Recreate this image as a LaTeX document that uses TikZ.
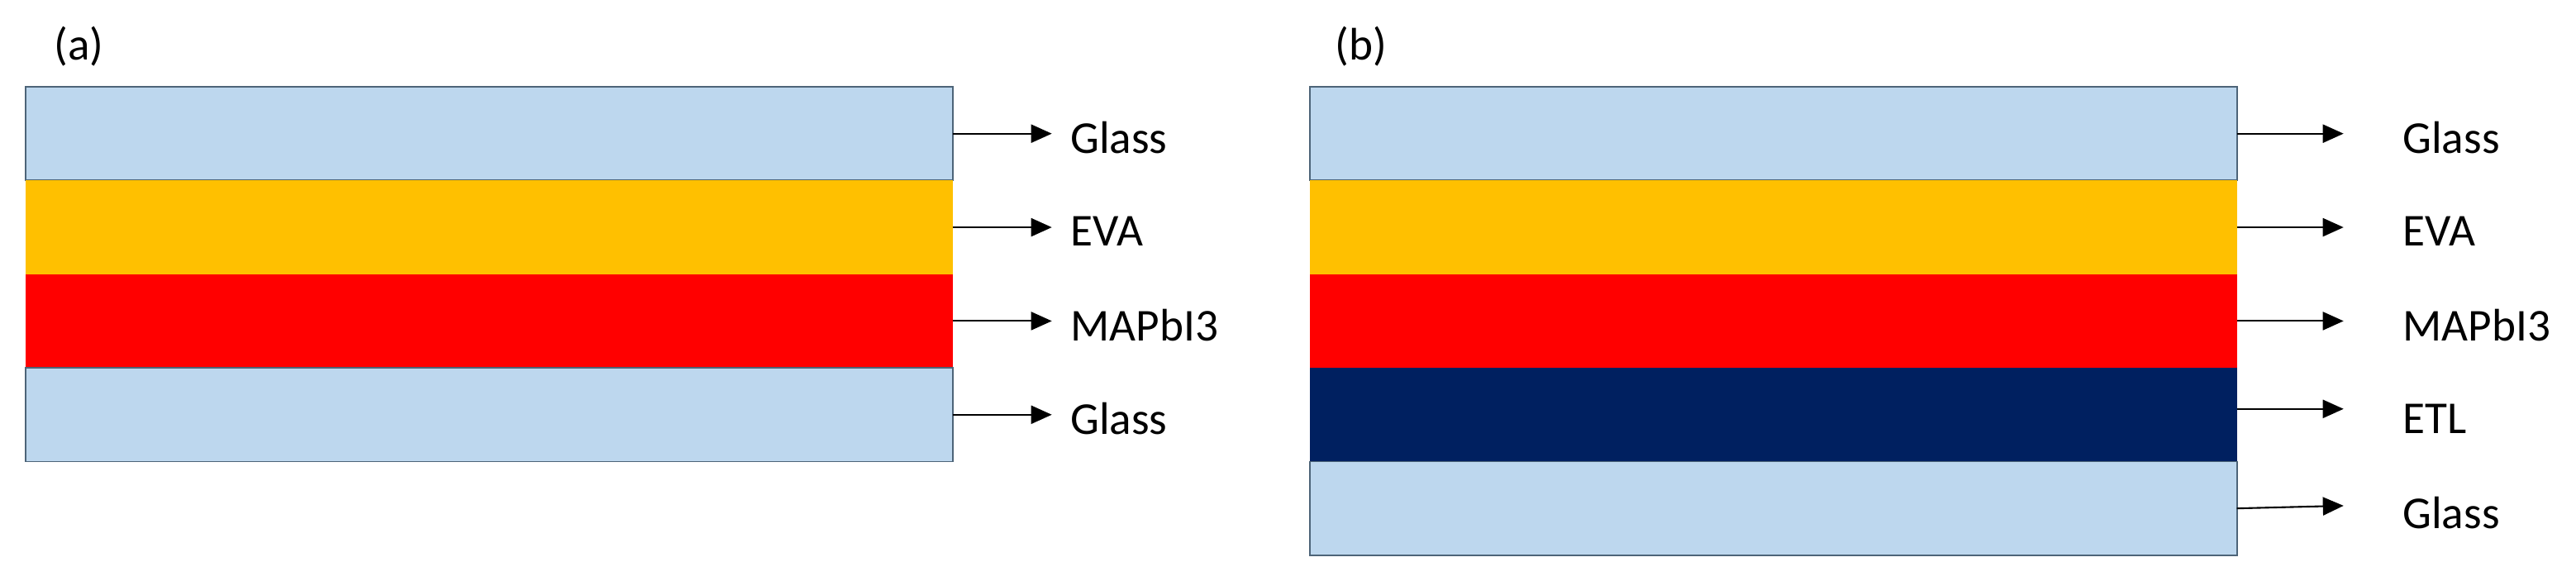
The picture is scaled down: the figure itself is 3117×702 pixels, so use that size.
\documentclass[tikz,border=0pt]{standalone}
\usepackage{fontspec}
\setmainfont{Carlito}
\usetikzlibrary{positioning,arrows.meta}
\definecolor{glassblue}{HTML}{BDD7EE}
\definecolor{evagold}{HTML}{FFC000}
\definecolor{perovred}{HTML}{FF0000}
\definecolor{etlnavy}{HTML}{002060}
\definecolor{edgegray}{HTML}{4D6478}

\begin{document}
\begin{tikzpicture}
  [x=0.01cm,y=-0.01cm,
   layerN/.style={rectangle,minimum width=11.21cm,minimum height=1.133cm,inner sep=0pt,outer sep=0pt},
   glassN/.style={layerN,fill=glassblue,draw=edgegray,line width=0.5pt},
   evaN/.style={layerN,fill=evagold},
   perovN/.style={layerN,fill=perovred},
   etlN/.style={layerN,fill=etlnavy},
   textN/.style={inner sep=0pt,font=\fontsize{15.7pt}{19pt}\selectfont,yshift=-0.5mm},
   tagN/.style={inner sep=0pt,anchor=base west,font=\fontsize{15.7pt}{19pt}\selectfont},
   arrA/.style={-{Triangle[length=0.25cm,width=0.22cm]},line width=0.6pt,shorten >=0.22cm},
   arrB/.style={arrA,shorten >=0.71cm},
  ]
 \useasboundingbox (0,0) rectangle (3117,702);

 % (a) stack
 \node[glassN,anchor=north west] (a1) at (31,105) {};
 \node[evaN]   (a2) [below=0pt of a1] {};
 \node[perovN] (a3) [below=0pt of a2] {};
 \node[glassN] (a4) [below=0pt of a3] {};
 \node[tagN] (ta) at ([xshift=0.34cm,yshift=0.32cm]a1.north west) {(a)};

 \node[textN] (la1) [right=1.42cm of a1] {Glass};
 \node[textN] (la2) [right=1.42cm of a2] {EVA};
 \node[textN] (la3) [right=1.42cm of a3] {MAPbI3};
 \node[textN] (la4) [right=1.42cm of a4] {Glass};

 \draw[arrA] (a1.east) -- (a1.east -| la1.west);
 \draw[arrA] (a2.east) -- (a2.east -| la2.west);
 \draw[arrA] (a3.east) -- (a3.east -| la3.west);
 \draw[arrA] (a4.east) -- (a4.east -| la4.west);

 % (b) stack
 \node[glassN,anchor=north west] (b1) at (1585,105) {};
 \node[evaN]   (b2) [below=0pt of b1] {};
 \node[perovN] (b3) [below=0pt of b2] {};
 \node[etlN]   (b4) [below=0pt of b3] {};
 \node[glassN] (b5) [below=0pt of b4] {};
 \node[tagN] (tb) at ([xshift=0.30cm,yshift=0.32cm]b1.north west) {(b)};

 \node[textN] (lb1) [right=2.0cm of b1] {Glass};
 \node[textN] (lb2) [right=2.0cm of b2] {EVA};
 \node[textN] (lb3) [right=2.0cm of b3] {MAPbI3};
 \node[textN] (lb4) [right=2.0cm of b4] {ETL};
 \node[textN] (lb5) [right=2.0cm of b5] {Glass};

 \draw[arrB] (b1.east) -- (b1.east -| lb1.west);
 \draw[arrB] (b2.east) -- (b2.east -| lb2.west);
 \draw[arrB] (b3.east) -- (b3.east -| lb3.west);
 \draw[arrB] ([yshift=0.07cm]b4.east) -- ([yshift=0.07cm]b4.east -| lb4.west);
 \draw[arrB] (b5.east) -- ([yshift=0.05cm]b5.east -| lb5.west);

\end{tikzpicture}
\end{document}
